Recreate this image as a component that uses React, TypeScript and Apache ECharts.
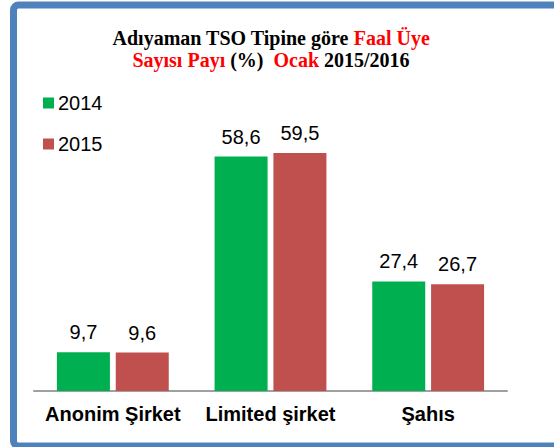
import React, { useEffect, useRef } from "react";
import * as echarts from "echarts";

const categories = ["Anonim Şirket", "Limited şirket", "Şahıs"];
const seriesNames = ["2014", "2015"];
const values2014 = [9.7, 58.6, 27.4];
const values2015 = [9.6, 59.5, 26.7];
const colors = ["#00B050", "#C0504D"];

const fmt = (p: any) => String(p.value).replace(".", ",");

export default function App() {
  const ref = useRef<HTMLDivElement>(null);
  useEffect(() => {
    if (!ref.current) return;
    const chart = echarts.init(ref.current, null, { renderer: "svg" });
    const labelStyle = {
      show: true,
      position: "top" as const,
      distance: 10,
      formatter: fmt,
      fontSize: 20,
      color: "#000",
      fontFamily: "Liberation Sans, Arial, sans-serif",
    };
    chart.setOption({
      animation: false,
      backgroundColor: "#ffffff",
      title: {
        left: 271,
        top: 27,
        textAlign: "center",
        padding: 0,
        text:
          "{b|Adıyaman TSO Tipine göre }{r|Faal Üye}\n{r|Sayısı Payı}{b| (%)  }{r|Ocak}{b| 2015/2016}",
        textStyle: {
          rich: {
            b: {
              fontFamily: "Liberation Serif, Times New Roman, serif",
              fontWeight: "bold",
              fontSize: 20,
              lineHeight: 22,
              color: "#000",
            },
            r: {
              fontFamily: "Liberation Serif, Times New Roman, serif",
              fontWeight: "bold",
              fontSize: 20,
              lineHeight: 22,
              color: "#FF0000",
            },
          },
        },
      },
      legend: {
        orient: "vertical",
        left: 43,
        top: 93,
        itemWidth: 11,
        itemHeight: 11,
        itemGap: 21,
        padding: 0,
        icon: "rect",
        data: seriesNames,
        textStyle: {
          fontSize: 20,
          color: "#000",
          fontFamily: "Liberation Sans, Arial, sans-serif",
          padding: [0, 0, 0, -1],
        },
      },
      grid: { left: 34, right: 47, top: 111, bottom: 56, containLabel: false },
      xAxis: {
        type: "category",
        data: categories,
        axisLine: { show: true, lineStyle: { color: "#A0A0A0", width: 2 } },
        axisTick: { show: false },
        axisLabel: {
          interval: 0,
          hideOverlap: false,
          margin: 13,
          fontSize: 20,
          fontWeight: "bold",
          color: "#000",
          fontFamily: "Liberation Sans, Arial, sans-serif",
        },
      },
      yAxis: {
        type: "value",
        min: 0,
        max: 70,
        show: false,
        splitLine: { show: false },
      },
      series: [
        {
          name: seriesNames[0],
          type: "bar",
          data: values2014,
          barWidth: 53,
          barGap: "11%",
          itemStyle: { color: colors[0] },
          label: labelStyle,
        },
        {
          name: seriesNames[1],
          type: "bar",
          data: values2015,
          barWidth: 53,
          barGap: "11%",
          itemStyle: { color: colors[1] },
          label: labelStyle,
        },
      ],
      graphic: [
        {
          type: "rect",
          silent: true,
          z: 100,
          shape: { x: 13.5, y: 5, width: 600, height: 441, r: 5 },
          style: { fill: "none", stroke: "#4F81BD", lineWidth: 7 },
        },
      ],
    });
    return () => chart.dispose();
  }, []);
  return (
    <div
      ref={ref}
      style={{ position: "fixed", left: 0, top: 0, width: 554, height: 447 }}
    />
  );
}
